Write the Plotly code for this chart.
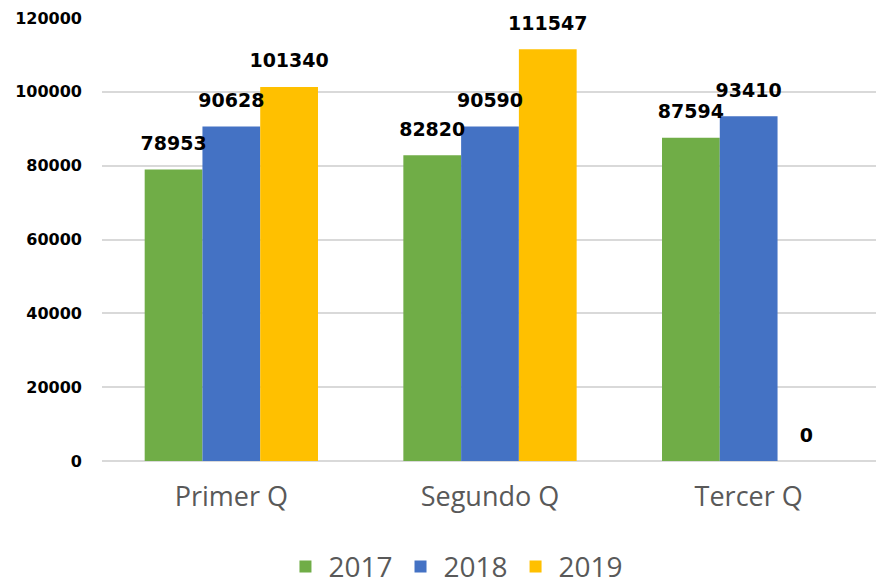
import plotly.graph_objects as go

categories = ["Primer Q", "Segundo Q", "Tercer Q"]
series_names = ["2017", "2018", "2019"]
values_2017 = [78953, 82820, 87594]
values_2018 = [90628, 90590, 93410]
values_2019 = [101340, 111547, 0]
y_ticks = [0, 20000, 40000, 60000, 80000, 100000, 120000]

colors = ["#70AD47", "#4472C4", "#FFC000"]
series_values = [values_2017, values_2018, values_2019]

fig = go.Figure()
for name, vals, col in zip(series_names, series_values, colors):
    fig.add_trace(go.Bar(
        x=categories, y=vals, name=name,
        marker=dict(color=col, line=dict(width=0)),
        offsetgroup=name, alignmentgroup="a",
    ))
for name, vals in zip(series_names, series_values):
    fig.add_trace(go.Scatter(
        x=categories, y=vals, name=name + " labels", showlegend=False,
        mode="markers+text", marker=dict(size=22, opacity=0),
        text=[str(v) for v in vals], textposition="top center",
        textfont=dict(family="DejaVu Sans", size=19, color="#000000", weight="bold"),
        offsetgroup=name, alignmentgroup="a", cliponaxis=False, hoverinfo="skip",
    ))

fig.update_layout(
    width=876, height=576,
    margin=dict(l=94, r=6, t=10, b=123, autoexpand=False),
    paper_bgcolor="white", plot_bgcolor="white",
    barmode="group", bargap=0.33, bargroupgap=0,
    scattermode="group", scattergap=0.33,
    showlegend=True,
    legend=dict(orientation="h", x=0.4555, xanchor="center", y=-0.239, yanchor="middle",
                font=dict(family="Open Sans", size=28, color="#595959"),
                itemwidth=36, traceorder="normal"),
)
fig.update_yaxes(range=[0, 120000], tickvals=y_ticks, ticktext=[str(t) for t in y_ticks],
                 showgrid=True, gridcolor="#D9D9D9", gridwidth=2,
                 zeroline=True, zerolinecolor="#D9D9D9", zerolinewidth=2,
                 showline=False, ticks="", ticklabelstandoff=19, automargin=False,
                 tickfont=dict(family="DejaVu Sans", size=16, color="#000000", weight="bold"))
fig.update_xaxes(showline=False, ticks="", showgrid=False, ticklabelstandoff=17, automargin=False,
                 tickfont=dict(family="Open Sans", size=27, color="#595959"))

fig.write_html("out.html")
